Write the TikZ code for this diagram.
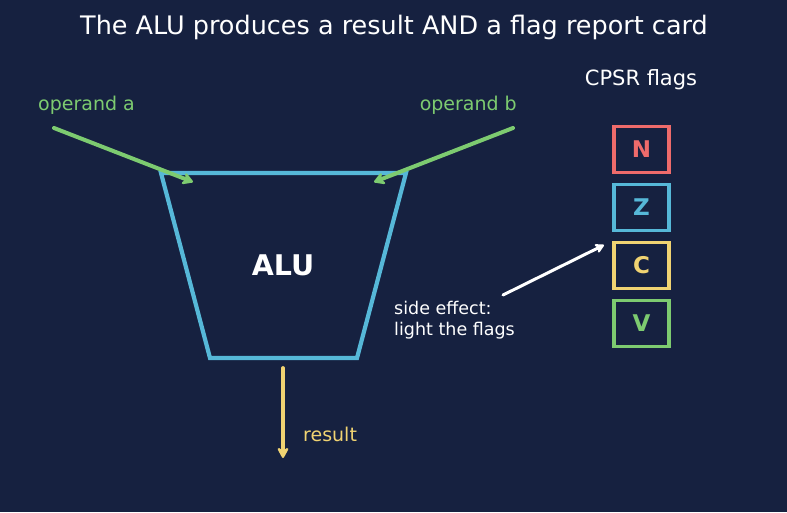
\documentclass[tikz,border=0pt]{standalone}
\usepackage{fontspec}
\setmainfont{DejaVu Sans}
\usetikzlibrary{arrows.meta}
\definecolor{bg}{HTML}{162140}
\definecolor{cyanc}{HTML}{56B8D8}
\definecolor{greenc}{HTML}{7DCB70}
\definecolor{redc}{HTML}{EE6B6B}
\definecolor{yellowc}{HTML}{F0D372}
\tikzset{
  flagbox/.style={draw=#1, line width=3.5pt, minimum width=55pt, minimum height=46pt, inner sep=0pt, text=#1, font=\fontsize{23}{26}\selectfont\bfseries},
  inarrow/.style={draw=greenc, line width=4pt, line cap=round, -{Stealth[length=13pt,width=15pt,round]}},
  lbl/.style={font=\fontsize{19}{22}\selectfont, inner sep=0pt}
}
\begin{document}
\begin{tikzpicture}[x=1pt,y=-1pt]
\fill[bg] (0,0) rectangle (787,512);
\useasboundingbox (0,0) rectangle (787,512);
\node[font=\fontsize{25.5}{28}\selectfont, text=white] (title) at (394,27.5) {The ALU produces a result AND a flag report card};
% ALU trapezoid
\coordinate (tl) at (161,173);
\coordinate (tr) at (406,173);
\coordinate (br) at (357,358);
\coordinate (bl) at (210,358);
\draw[cyanc, line width=4.2pt, line join=miter] (tl) -- (tr) -- (br) -- (bl) -- cycle;
\node[font=\fontsize{28.5}{30}\selectfont\bfseries, text=white] (alu) at (283,265) {ALU};
% operands
\node[lbl, text=greenc, anchor=west] (opa) at (38,105) {operand a};
\node[lbl, text=greenc, anchor=east] (opb) at (517,105) {operand b};
\coordinate (opas) at (54,128);
\coordinate (opae) at (193,182);
\coordinate (opbs) at (513,128);
\coordinate (opbe) at (374,182);
\draw[inarrow] (opas) -- (opae);
\draw[inarrow] (opbs) -- (opbe);
% result
\coordinate (ress) at (283,368);
\coordinate (rese) at (283,458);
\draw[yellowc, line width=3.8pt, line cap=round, -{Stealth[length=13pt,width=14pt,round]}] (ress) -- (rese);
\node[lbl, text=yellowc, anchor=west] (res) at (303,434) {result};
% flags
\node[lbl, text=white, font=\fontsize{21}{24}\selectfont] (cpsr) at (641,80) {CPSR flags};
\node[flagbox=redc] (N) at (641.5,149.5) {N};
\node[flagbox=cyanc] (Z) at (641.5,207.5) {Z};
\node[flagbox=yellowc] (C) at (641.5,265.5) {C};
\node[flagbox=greenc] (V) at (641.5,323.5) {V};
% side effect
\node[lbl, text=white, anchor=west, align=left, font=\fontsize{17.5}{21}\selectfont] (side) at (394,320.5) {side effect:\\light the flags};
\coordinate (sides) at (503,295);
\coordinate (sidee) at (604,245);
\draw[white, line width=3pt, line cap=round, -{Stealth[length=11pt,width=12pt,round]}] (sides) -- (sidee);
\end{tikzpicture}
\end{document}
